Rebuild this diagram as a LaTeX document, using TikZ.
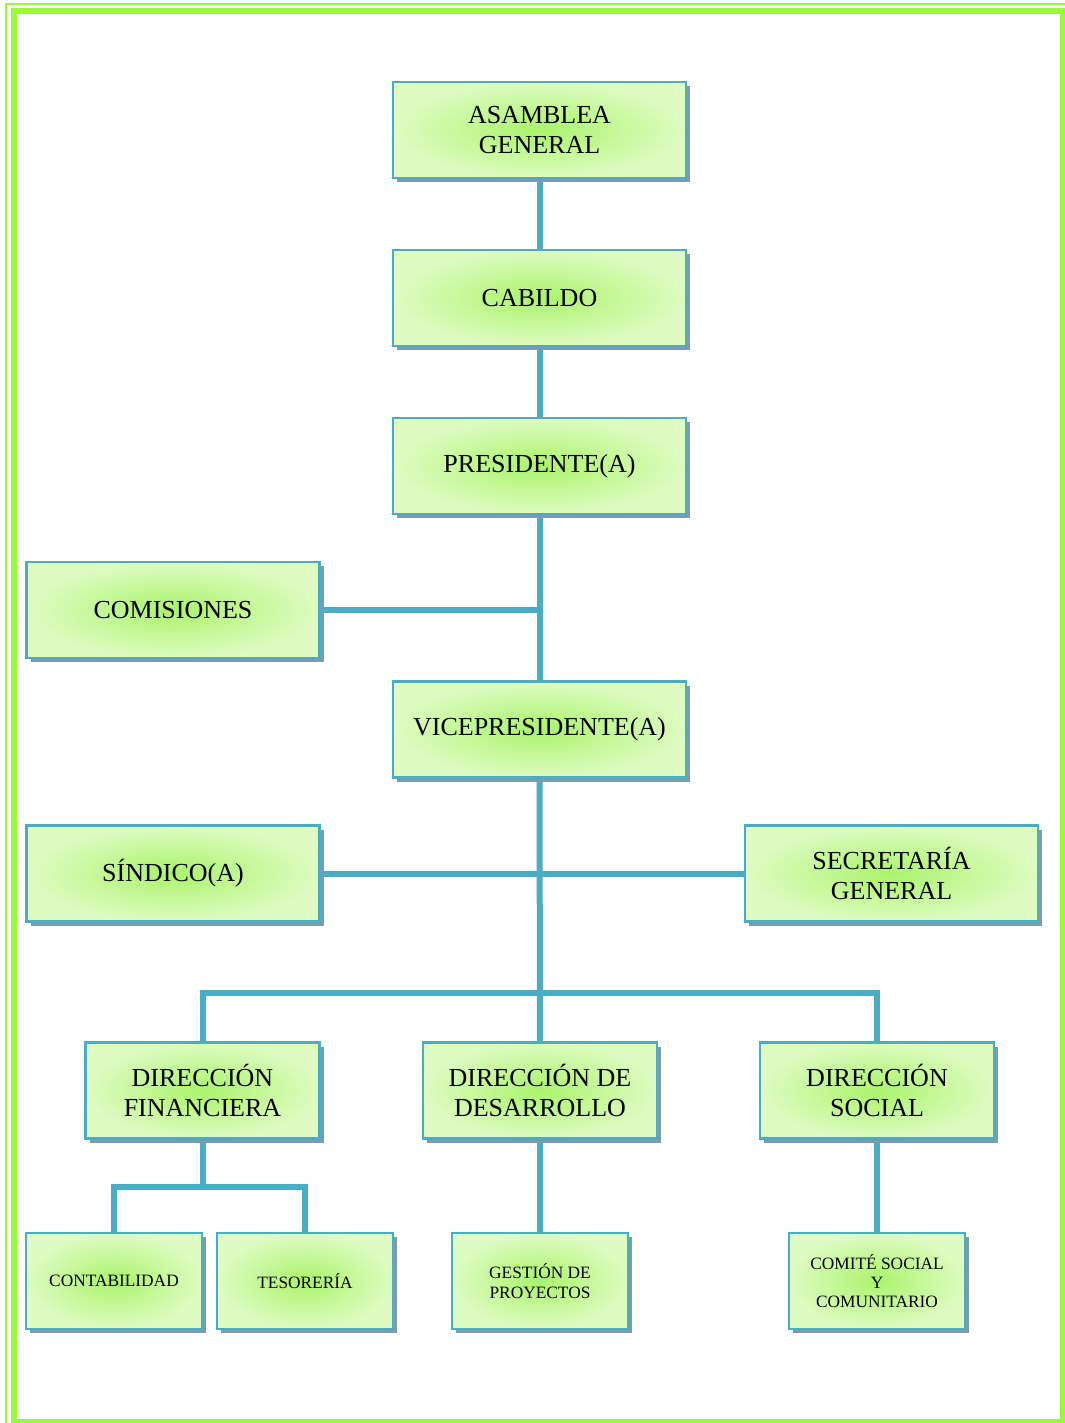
\documentclass[tikz,border=0pt]{standalone}
\usepackage{fontspec}
\setmainfont{Liberation Serif}
\usetikzlibrary{shadows,backgrounds}

\definecolor{boxblue}{RGB}{75,172,198}
\definecolor{shadowgray}{RGB}{127,155,170}
\definecolor{boxcenter}{RGB}{170,244,108}
\definecolor{boxouter}{RGB}{222,252,194}
\definecolor{framegreen}{RGB}{153,250,55}

\tikzset{
	orgbox/.style={draw=boxblue, line width=2pt, inner color=boxcenter, outer color=boxouter,
		drop shadow={shadow xshift=3pt, shadow yshift=-3pt, fill=shadowgray, opacity=1},
		minimum height=72pt, inner sep=0pt, outer sep=0pt, align=center,
		font=\fontsize{19.5}{22.5}\selectfont},
	widebox/.style={orgbox, minimum width=219.75pt},
	dirbox/.style={orgbox, minimum width=175.5pt},
	smallbox/.style={orgbox, minimum width=132pt, font=\fontsize{13}{14.5}\selectfont},
	link/.style={draw=boxblue, line width=4.5pt}
}

\begin{document}
\begin{tikzpicture}[x=0.75pt,y=0.75pt,yscale=-1]
	\useasboundingbox (0,0) rectangle (1064,1423);
	
	%Page frame
	\draw [framegreen, line width=1.5pt] (5.5,4) rectangle (1075,1435);
	\draw [framegreen, line width=4.5pt] (14,11.5) rectangle (1063,1422);
	
	% Upper chain
	\node [widebox] (asamblea) at (539.5,130) {ASAMBLEA\\GENERAL};
	\node [widebox] (cabildo) at (539.5,298) {CABILDO};
	\node [widebox] (presidente) at (539.5,466) {PRESIDENTE(A)};
	\node [widebox] (comisiones) at (173,610) {COMISIONES};
	\node [widebox] (vice) at (539.5,729.5) {VICEPRESIDENTE(A)};
	\node [widebox] (sindico) at (173,873.5) {SÍNDICO(A)};
	\node [widebox] (secretaria) at (891.5,873.5) {SECRETARÍA\\GENERAL};
	
	% Direcciones
	\node [dirbox] (dfin) at (202.5,1090.5) {DIRECCIÓN\\FINANCIERA};
	\node [dirbox] (ddes) at (540,1090.5) {DIRECCIÓN DE\\DESARROLLO};
	\node [dirbox] (dsoc) at (877,1090.5) {DIRECCIÓN\\SOCIAL};
	
	% Lower units
	\node [smallbox] (conta) at (114,1281) {CONTABILIDAD};
	\node [smallbox] (teso) at (305,1281) {TESORERÍA};
	\node [smallbox] (gestion) at (540,1281) {GESTIÓN DE\\PROYECTOS};
	\node [smallbox] (comite) at (877,1281) {COMITÉ SOCIAL\\Y\\COMUNITARIO};
	
	\coordinate (bus) at (540,993);
	\coordinate (fbus) at (202.5,1187);
	
	% Connectors
	\begin{scope}[on background layer]
		\draw [link] (asamblea) -- (cabildo);
		\draw [link] (cabildo) -- (presidente);
		\draw [link] (presidente) -- (vice);
		\draw [link] (comisiones) -- (comisiones -| vice);
		\draw [link] (sindico) -- (secretaria);
		\draw [link] (vice) -- (ddes);
		\draw [link] (dfin.north) |- (bus) -| (dsoc.north);
		\draw [link] (dfin) -- (fbus);
		\draw [link] (conta.north) |- (fbus) -| (teso.north);
		\draw [link] (ddes) -- (gestion);
		\draw [link] (dsoc) -- (comite);
	\end{scope}
	
\end{tikzpicture}
\end{document}
